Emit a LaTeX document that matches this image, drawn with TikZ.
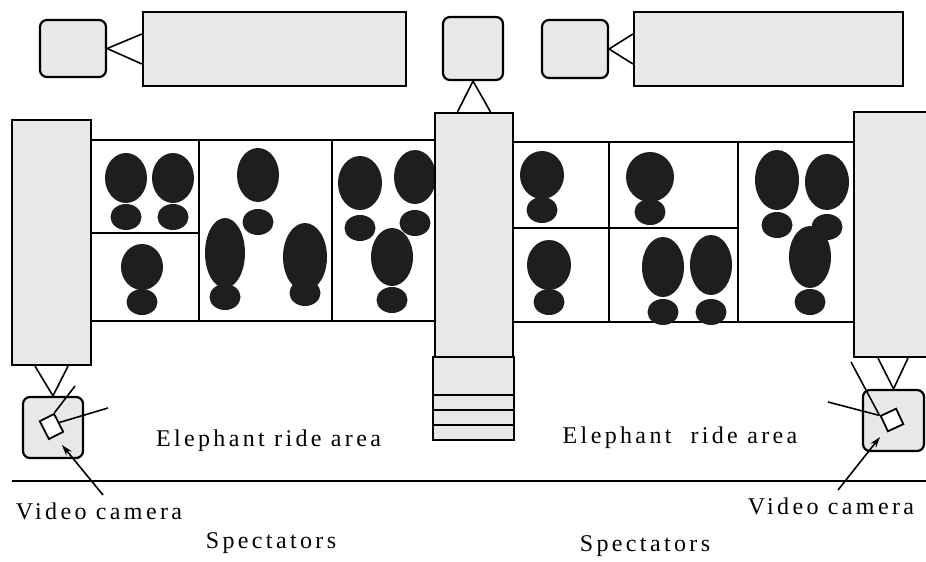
\documentclass[tikz,border=0pt]{standalone}
\usepackage{fontspec}
\setmainfont{Liberation Serif}[LetterSpace=14]
\usepackage{tikz}
\usetikzlibrary{arrows.meta, positioning, calc}
\definecolor{mPanel}{HTML}{E8E8E8}
\definecolor{mBody}{HTML}{1E1E1E}

\begin{document}
\begin{tikzpicture}[x=1pt, y=-1pt,
    panel/.style={draw, line width=2.2pt, fill=mPanel, inner sep=0pt},
    monbox/.style={panel, rounded corners=7pt},
    pen/.style={draw, line width=1.4pt},
    lbl/.style={font=\fontsize{24}{27}\selectfont, inner sep=0pt},
    wire/.style={line width=1.6pt}]
    \useasboundingbox (0,0) rectangle (926,562);

    % monitors and display boards on top
    \node[monbox, minimum width=66pt, minimum height=57pt] (monL) at (73,48.5) {};
    \node[panel, minimum width=263pt, minimum height=74pt] (dispL) at (274.5,49) {};
    \node[monbox, minimum width=60pt, minimum height=63pt] (monM) at (473,48.5) {};
    \node[monbox, minimum width=66pt, minimum height=58pt] (monR) at (575,49) {};
    \node[panel, minimum width=269pt, minimum height=74pt] (dispR) at (768.5,49) {};

    % pens with the elephants
    \foreach \xa/\ya/\xb/\yb in {91/140/199/233, 91/233/199/321, 199/140/332/321,
                                 332/140/435/321, 513/142/609/228, 609/142/738/228,
                                 513/228/609/322, 609/228/738/322, 738/142/854/322} {
      \draw[pen] (\xa,\ya) rectangle (\xb,\yb);
    }
    \foreach \x/\y/\rx/\ry/\hy in {126/178/21/25/217, 173/178/21/25/217, 142/267/21/23/302,
                                   258/175/21/27/222, 225/253/20/35/297, 305/257/22/34/293,
                                   360/183/22/27/228, 415/177/21/27/223, 392/257/21/29/300,
                                   542/175/22/24/210, 650/177/24/25/212, 549/265/22/25/302,
                                   663/267/21/30/312, 711/265/21/30/312, 777/180/22/30/225,
                                   827/182/22/28/227, 810/257/21/31/302} {
      \fill[mBody] (\x,\hy) ellipse [x radius=15.5, y radius=13];
      \fill[mBody] (\x,\y) ellipse [x radius=\rx, y radius=\ry];
    }

    % posts, stairs and camera stands
    \node[panel, minimum width=79pt, minimum height=245pt] (postL) at (51.5,242.5) {};
    \node[panel, minimum width=78pt, minimum height=244pt] (postM) at (474,235) {};
    \node[panel, minimum width=78pt, minimum height=245pt] (postR) at (893,234.5) {};
    \node[panel, minimum width=81pt, minimum height=83pt] (stairs) at (473.5,398.5) {};
    \foreach \sy in {395, 410, 425} {
      \draw[line width=2pt] (stairs.west |- 0,\sy) -- (stairs.east |- 0,\sy);
    }
    \node[monbox, minimum width=60pt, minimum height=61pt] (camL) at (53,427.5) {};
    \node[monbox, minimum width=61pt, minimum height=61pt] (camR) at (893.5,420.5) {};

    % links
    \draw[wire] ($(dispL.west)+(0,-15)$) -- (monL.east) -- ($(dispL.west)+(0,15)$);
    \draw[wire] ($(dispR.west)+(0,-15)$) -- (monR.east) -- ($(dispR.west)+(0,15)$);
    \draw[wire] ($(postM.north)+(-16.5,0)$) -- (monM.south) -- ($(postM.north)+(16.5,0)$);
    \draw[wire] ($(postL.south)+(-16.5,0)$) -- (camL.north) -- ($(postL.south)+(16.5,0)$);
    \draw[wire] ($(postR.south)+(-15,0)$) -- (camR.north) -- ($(postR.south)+(15,0)$);

    % cameras
    \node[draw, line width=1.8pt, fill=white, minimum width=16pt, minimum height=20pt,
          rotate=27, inner sep=0pt] (lensL) at (51.5,426.5) {};
    \node[draw, line width=1.8pt, fill=white, minimum width=17pt, minimum height=17pt,
          rotate=25, inner sep=0pt] (lensR) at (892,420) {};
    \coordinate (viewL1) at (75,386);
    \coordinate (viewL2) at (108,408);
    \coordinate (viewR1) at (828,402);
    \coordinate (viewR2) at (851,362);
    \draw[wire] (lensL.north east) -- (viewL1);
    \draw[wire] (lensL.east) -- (viewL2);
    \draw[wire] (lensR.north west) -- (viewR1);
    \draw[wire] (lensR.north west) -- (viewR2);

    % ground line and labels
    \coordinate (groundW) at (12,481);
    \coordinate (groundE) at (926,481);
    \draw[line width=1.8pt] (groundW) -- (groundE);
    \node[lbl] (rideL) at (268.5,441) {Elephant ride area};
    \node[lbl] (rideR) at (680,438) {Elephant\hspace{0.4em} ride area};
    \node[lbl] (tagL) at (99,511) {Video camera};
    \node[lbl] (tagR) at (831,506) {Video camera};
    \node[lbl] (specL) at (271,543) {Spectators};
    \node[lbl] (specR) at (645,546) {Spectators};
    \coordinate (pointL) at (103,495);
    \coordinate (pointR) at (838,490);
    \coordinate (aimL) at (62,445);
    \coordinate (aimR) at (880,437);
    \draw[wire, -{Stealth[length=11pt, width=7pt]}] (pointL) -- (aimL);
    \draw[wire, -{Stealth[length=11pt, width=7pt]}] (pointR) -- (aimR);
  \end{tikzpicture}
\end{document}
